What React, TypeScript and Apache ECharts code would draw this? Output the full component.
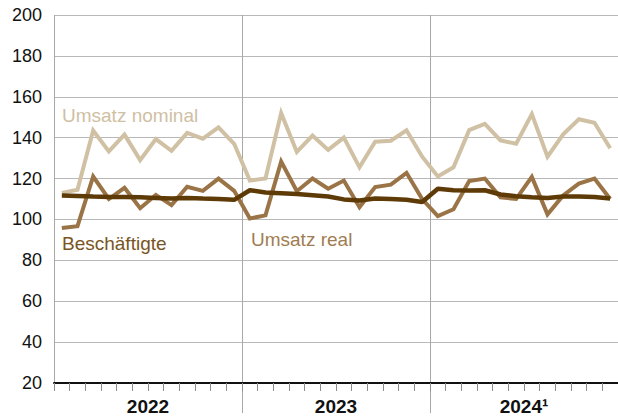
import React, { useEffect, useRef } from "react";
import * as echarts from "echarts";

const years = ["2022", "2023", "2024¹"];
const monthNames = ["Jan", "Feb", "Mär", "Apr", "Mai", "Jun", "Jul", "Aug", "Sep", "Okt", "Nov", "Dez"];
const months = ["2022", "2023", "2024"].flatMap((y) => monthNames.map((m) => `${m} ${y}`));

const umsatzNominal = [
  113, 114.5, 143.5, 133.3, 141.5, 129, 139.3, 133.6, 142.3, 139.5, 145, 137,
  119, 120, 152, 133, 141, 134, 140, 125.5, 138, 138.5, 143.6, 130.7,
  121, 125.5, 143.7, 146.7, 138.7, 137, 151.5, 130.7, 141.6, 149, 147.3, 134.8,
];
const umsatzReal = [
  95.8, 96.7, 121, 110, 115.5, 105.5, 112, 107, 116, 114, 120, 114,
  100.5, 102, 128.3, 113.8, 120, 115, 119, 106, 115.8, 117, 122.8, 110,
  101.6, 105, 118.8, 120, 110.8, 110, 120.8, 102.5, 111.7, 117.5, 120, 110,
];
const beschaeftigte = [
  111.7, 111.5, 111.2, 111, 111, 110.8, 110.5, 110.2, 110.5, 110.2, 110, 109.6,
  114.3, 113.2, 112.8, 112.4, 111.8, 111.2, 109.8, 109.3, 110.2, 110, 109.6, 108.5,
  115, 114.3, 114.2, 114.3, 112.2, 111.4, 110.9, 110.5, 111.2, 111.2, 111, 110.2,
];

const FONT = "Liberation Sans, Arial, Helvetica, sans-serif";

export default function App() {
  const ref = useRef<HTMLDivElement>(null);
  useEffect(() => {
    document.body.style.margin = "0";
    if (!ref.current) return;
    const chart = echarts.init(ref.current, null, { renderer: "svg" });
    chart.setOption({
      animation: false,
      grid: { left: 54, right: 0, top: 15, bottom: 37, containLabel: false },
      xAxis: [
        {
          type: "category",
          data: months,
          boundaryGap: true,
          position: "bottom",
          axisLine: { show: true, lineStyle: { color: "#111", width: 2 } },
          axisTick: { show: true, interval: 0, length: 8, lineStyle: { color: "#8c8c8c", width: 1 } },
          axisLabel: { show: false },
          splitLine: { show: false },
          z: 5,
        },
        {
          type: "category",
          data: years,
          boundaryGap: true,
          position: "bottom",
          axisLine: { show: false },
          axisTick: {
            show: true,
            length: 30,
            interval: (i: number) => i > 0,
            lineStyle: { color: "#a8a8a8", width: 1 },
          },
          axisLabel: {
            show: true,
            interval: 0,
            margin: 14,
            fontSize: 19,
            fontWeight: "bold",
            color: "#111",
            fontFamily: FONT,
          },
          splitLine: { show: true, interval: 0, lineStyle: { color: "#a8a8a8", width: 1 } },
        },
      ],
      yAxis: {
        type: "value",
        min: 20,
        max: 200,
        interval: 20,
        axisLine: { show: false },
        axisTick: { show: false },
        axisLabel: { fontSize: 18, color: "#111", margin: 12, fontFamily: FONT },
        splitLine: { show: true, lineStyle: { color: "#b8b8b8", width: 1 } },
      },
      series: [
        {
          name: "Umsatz nominal",
          type: "line",
          xAxisIndex: 0,
          data: umsatzNominal,
          symbol: "none",
          lineStyle: { color: "#d0c1a4", width: 4, join: "miter" },
          z: 2,
        },
        {
          name: "Umsatz real",
          type: "line",
          xAxisIndex: 0,
          data: umsatzReal,
          symbol: "none",
          lineStyle: { color: "#9a7446", width: 4, join: "miter" },
          z: 3,
        },
        {
          name: "Beschäftigte",
          type: "line",
          xAxisIndex: 0,
          data: beschaeftigte,
          symbol: "none",
          lineStyle: { color: "#5e3a06", width: 4.5 },
          z: 4,
        },
      ],
      graphic: [
        {
          type: "text",
          x: 62,
          y: 115,
          style: { text: "Umsatz nominal", fill: "#cfc0a3", font: `19px ${FONT}`, verticalAlign: "middle" },
        },
        {
          type: "text",
          x: 62,
          y: 243,
          style: { text: "Beschäftigte", fill: "#7a5522", font: `19px ${FONT}`, verticalAlign: "middle" },
        },
        {
          type: "text",
          x: 251,
          y: 239,
          style: { text: "Umsatz real", fill: "#9f7d52", font: `19px ${FONT}`, verticalAlign: "middle" },
        },
      ],
    });
    return () => chart.dispose();
  }, []);
  return <div ref={ref} style={{ width: 618, height: 420 }} />;
}
